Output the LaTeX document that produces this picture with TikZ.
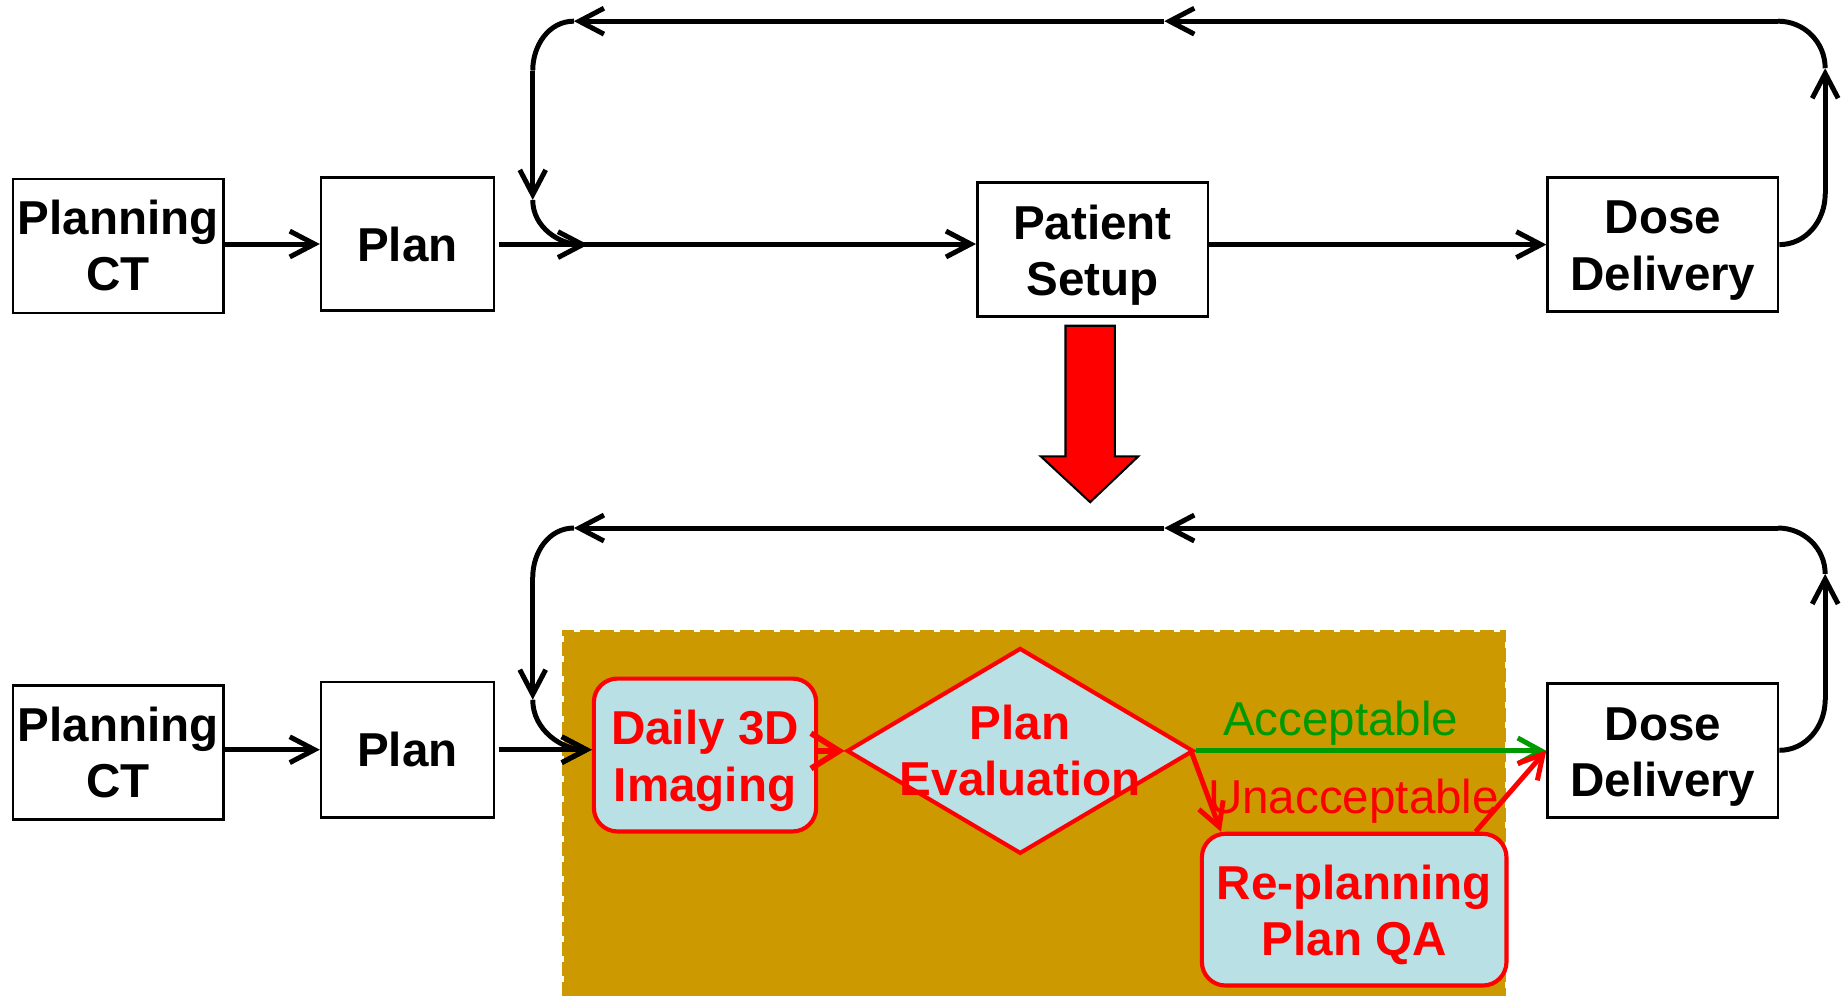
\documentclass[tikz,border=0pt]{standalone}
\usepackage{fontspec}
\setmainfont{Liberation Sans}
\usetikzlibrary{arrows.meta,shapes.geometric,calc}
\definecolor{lblue}{RGB}{185,224,228}
\definecolor{gold}{RGB}{204,153,0}
\definecolor{dgreen}{RGB}{0,153,0}
\begin{document}
\begin{tikzpicture}[x=0.01cm,y=0.01cm,
  every node/.style={font=\fontsize{11.5}{13.6}\selectfont},
  box/.style={draw=black,line width=0.6pt,fill=white,inner sep=0pt,align=center,font=\fontsize{11.5}{13.6}\selectfont\bfseries},
  rbox/.style={draw=red,line width=1pt,fill=lblue,rounded corners=0.2cm,inner sep=0pt},
  btxt/.style={align=center,inner sep=0pt,font=\fontsize{11.5}{13.6}\selectfont\bfseries},
  rtxt/.style={btxt,text=red},
  conn/.style={line width=1.2pt,black},
  tip/.style={-{Straight Barb[length=2.1mm,width=2.2mm,line width=1.2pt]}},
  rtip/.style={-{Straight Barb[length=2mm,width=2.2mm]}}
]
\useasboundingbox (0,0) rectangle (1568,847);

% ---------- top row ----------
\node[box,minimum width=179*0.01cm,minimum height=114*0.01cm] (pct1) at (100.5,638) {Planning\\CT};
\node[box,minimum width=147*0.01cm,minimum height=113*0.01cm] (plan1) at (346.5,639.5) {Plan};
\node[box,minimum width=196*0.01cm,minimum height=114*0.01cm] (setup1) at (929,635) {};
\node[btxt] (setup1t) at (929,630) {Patient\\Setup};
\node[box,minimum width=196*0.01cm,minimum height=114*0.01cm] (dd1) at (1414,639) {};
\node[btxt] (dd1t) at (1414,634) {Dose\\Delivery};

\draw[conn,tip] (pct1.east |- plan1.east) -- (plan1.west);
\draw[conn,tip] ([xshift=0.03cm]plan1.east) -- (plan1.east -| setup1.west);
\draw[conn,tip] (setup1.east |- dd1.west) -- (dd1.west);

\coordinate (r1a) at (1552,682);
\coordinate (r1b) at (1552,789);
\coordinate (r1c) at (1512,829);
\coordinate (m1) at (990,829);
\coordinate (l1a) at (488,829);
\coordinate (l1b) at (453,787);
\coordinate (l1c) at (453,677);
\coordinate (j1) at (500,639);
\draw[conn] (dd1.east) to[out=0,in=-90] (r1a);
\draw[conn,tip] (r1a) -- (r1b);
\draw[conn] (r1b) to[out=90,in=0] (r1c);
\draw[conn,tip] (r1c) -- (m1);
\draw[conn,tip] (m1) -- (l1a);
\draw[conn] (l1a) to[out=180,in=90] (l1b);
\draw[conn,tip] (l1b) -- (l1c);
\draw[conn,tip] (l1c) to[out=-90,in=180] (j1);

% ---------- big red arrow ----------
\draw[fill=red,draw=black,line width=0.5pt]
  (906,570) -- (948,570) -- (948,459) -- (968,459) -- (927,420) -- (885,459) -- (906,459) -- cycle;

% ---------- bottom row ----------
\fill[gold] (479.5,0) rectangle (1279.5,309.5);
\draw[gold,line width=0.03cm,dash pattern=on 0.12cm off 0.05cm] (479.5,0) -- (479.5,309.5) -- (1279.5,309.5) -- (1279.5,0);

\node[box,minimum width=179*0.01cm,minimum height=114*0.01cm] (pct2) at (100.5,207) {Planning\\CT};
\node[box,minimum width=147*0.01cm,minimum height=115*0.01cm] (plan2) at (346.5,209.5) {Plan};
\node[box,minimum width=196*0.01cm,minimum height=114*0.01cm] (dd2) at (1414,209) {};
\node[btxt] (dd2t) at (1414,203.5) {Dose\\Delivery};

\node[rbox,minimum width=189*0.01cm,minimum height=130*0.01cm] (daily) at (599.5,205) {};
\node[rtxt] (dailyt) at (599.5,200) {Daily 3D\\Imaging};
\node[draw=red,line width=1pt,fill=lblue,shape=diamond,inner sep=0pt,minimum width=295*0.01cm,minimum height=175*0.01cm] (eval) at (867.5,208.5) {};
\node[rtxt] (evaltext) at (867.5,209) {Plan\\Evaluation};
\node[rbox,minimum width=259*0.01cm,minimum height=129*0.01cm] (replan) at (1151.5,73.5) {};
\node[rtxt] (replant) at (1151.5,69) {Re-planning\\Plan QA};

\draw[conn,tip] (pct2.east |- plan2.east) -- (plan2.west);
\draw[conn,tip] ([xshift=0.03cm]plan2.east) -- (plan2.east -| daily.west);

\coordinate (r2a) at (1552,252);
\coordinate (r2b) at (1552,359);
\coordinate (r2c) at (1512,398);
\coordinate (m2) at (990,398);
\coordinate (l2a) at (488,398);
\coordinate (l2b) at (453,356);
\coordinate (l2c) at (453,252);
\draw[conn] (dd2.east) to[out=0,in=-90] (r2a);
\draw[conn,tip] (r2a) -- (r2b);
\draw[conn] (r2b) to[out=90,in=0] (r2c);
\draw[conn,tip] (r2c) -- (m2);
\draw[conn,tip] (m2) -- (l2a);
\draw[conn] (l2a) to[out=180,in=90] (l2b);
\draw[conn,tip] (l2b) -- (l2c);
\draw[conn,tip] (l2c) to[out=-90,in=180] (plan2.east -| daily.west);

\draw[red,line width=1.6pt,-{Straight Barb[length=2.4mm,width=3mm,line width=1.4pt]}] (daily.east |- eval.west) -- (eval.west);
\draw[dgreen,line width=1.2pt,rtip] (eval.east) -- (eval.east -| dd2.west);
\node[text=dgreen] (acc) at (1140,232) {Acceptable};
\coordinate (ua) at ($(replan.north west)+(18,0)$);
\draw[red,line width=1.2pt,rtip] ([xshift=-0.04cm]eval.east) -- (ua);
\node[text=red] (unacc) at (1151,166) {Unacceptable};
\coordinate (ub) at ($(replan.north east)+(-28,0)$);
\draw[red,line width=1.2pt,rtip] (ub) -- (dd2.west);
\end{tikzpicture}
\end{document}
